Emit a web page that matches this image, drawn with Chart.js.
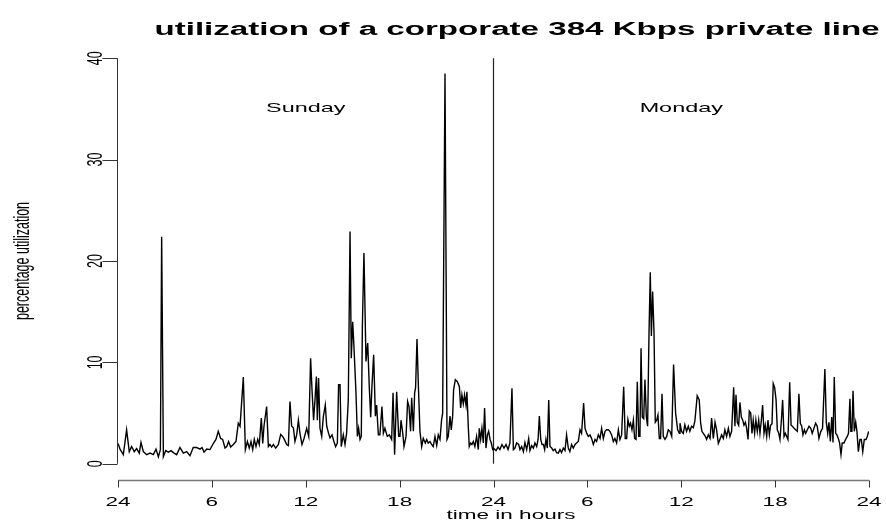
<!DOCTYPE html>
<html lang="en">
<head>
  <meta charset="UTF-8">
  <title>utilization of a corporate 384 Kbps private line</title>
  <script src="https://cdn.jsdelivr.net/npm/chart.js"></script>
  <style>
    html, body { margin: 0; padding: 0; background: #fff; }
  </style>
</head>
<body>
  <canvas id="chartCanvas" width="886" height="527"></canvas>

  <script>
    // time in hours since midnight Saturday/Sunday (0..48)
    const hours = [
      0.00, 0.13, 0.34, 0.55, 0.72, 0.87, 1.04, 1.19, 1.36, 1.47, 1.62, 1.83, 2.05, 2.26, 2.43, 2.58,
      2.71, 2.79, 2.90, 3.05, 3.22, 3.39, 3.58, 3.75, 3.96, 4.18, 4.39, 4.60, 4.81, 5.03, 5.24, 5.37,
      5.50, 5.67, 5.88, 6.09, 6.26, 6.41, 6.56, 6.69, 6.84, 6.95, 7.07, 7.20, 7.37, 7.54, 7.69, 7.80,
      8.01, 8.14, 8.27, 8.39, 8.50, 8.61, 8.71, 8.82, 8.93, 9.03, 9.16, 9.25, 9.33, 9.50, 9.61, 9.71,
      9.82, 9.93, 10.08, 10.25, 10.40, 10.52, 10.63, 10.78, 10.89, 10.99, 11.10, 11.21, 11.31, 11.42, 11.53, 11.63,
      11.76, 11.89, 12.06, 12.19, 12.31, 12.40, 12.50, 12.59, 12.68, 12.74, 12.82, 12.91, 13.02, 13.12, 13.25, 13.34,
      13.46, 13.55, 13.68, 13.80, 13.91, 14.02, 14.10, 14.19, 14.27, 14.40, 14.51, 14.61, 14.72, 14.83, 14.91, 15.00,
      15.08, 15.21, 15.30, 15.38, 15.47, 15.55, 15.62, 15.72, 15.85, 15.96, 16.06, 16.15, 16.23, 16.34, 16.45, 16.53,
      16.64, 16.74, 16.87, 16.96, 17.06, 17.21, 17.34, 17.49, 17.58, 17.68, 17.81, 17.94, 18.02, 18.09, 18.20, 18.28,
      18.41, 18.51, 18.60, 18.70, 18.77, 18.88, 18.96, 19.02, 19.11, 19.20, 19.30, 19.41, 19.51, 19.64, 19.73, 19.83,
      19.94, 20.05, 20.15, 20.26, 20.37, 20.47, 20.58, 20.68, 20.75, 20.90, 21.03, 21.11, 21.22, 21.30, 21.39, 21.45,
      21.56, 21.69, 21.82, 21.90, 21.98, 22.07, 22.15, 22.24, 22.30, 22.39, 22.45, 22.54, 22.62, 22.71, 22.81, 22.92,
      23.03, 23.09, 23.18, 23.26, 23.35, 23.43, 23.52, 23.61, 23.69, 23.78, 23.86, 23.95, 24.03, 24.16, 24.29, 24.41,
      24.54, 24.67, 24.80, 24.93, 25.05, 25.18, 25.27, 25.37, 25.48, 25.61, 25.69, 25.80, 25.91, 26.01, 26.12, 26.25,
      26.33, 26.44, 26.55, 26.65, 26.76, 26.85, 26.93, 27.02, 27.10, 27.19, 27.27, 27.35, 27.44, 27.53, 27.61, 27.72,
      27.82, 27.93, 28.03, 28.14, 28.25, 28.35, 28.46, 28.57, 28.67, 28.78, 28.88, 28.99, 29.10, 29.21, 29.31, 29.42,
      29.53, 29.63, 29.76, 29.85, 29.96, 30.06, 30.17, 30.27, 30.38, 30.49, 30.59, 30.70, 30.81, 30.91, 31.02, 31.13,
      31.23, 31.34, 31.44, 31.55, 31.66, 31.76, 31.87, 31.98, 32.08, 32.19, 32.32, 32.42, 32.51, 32.59, 32.68, 32.76,
      32.85, 32.94, 33.02, 33.11, 33.19, 33.28, 33.36, 33.43, 33.51, 33.60, 33.68, 33.77, 33.85, 33.94, 34.02, 34.09,
      34.17, 34.26, 34.34, 34.43, 34.51, 34.60, 34.68, 34.77, 34.85, 34.96, 35.07, 35.17, 35.28, 35.39, 35.51, 35.64,
      35.77, 35.88, 35.92, 36.02, 36.13, 36.23, 36.34, 36.45, 36.55, 36.66, 36.77, 36.87, 37.02, 37.15, 37.24, 37.32,
      37.41, 37.54, 37.62, 37.73, 37.84, 37.94, 38.05, 38.16, 38.26, 38.37, 38.47, 38.58, 38.69, 38.79, 38.90, 39.01,
      39.11, 39.22, 39.35, 39.43, 39.50, 39.58, 39.67, 39.75, 39.84, 39.93, 40.01, 40.10, 40.18, 40.27, 40.35, 40.44,
      40.52, 40.60, 40.69, 40.77, 40.86, 40.95, 41.03, 41.12, 41.20, 41.29, 41.37, 41.46, 41.54, 41.63, 41.71, 41.80,
      41.88, 41.97, 42.06, 42.14, 42.23, 42.31, 42.40, 42.48, 42.57, 42.65, 42.74, 42.82, 42.93, 43.02, 43.10, 43.21,
      43.31, 43.42, 43.52, 43.61, 43.70, 43.78, 43.87, 43.95, 44.06, 44.17, 44.28, 44.37, 44.48, 44.59, 44.69, 44.80,
      44.91, 45.03, 45.18, 45.27, 45.36, 45.44, 45.53, 45.62, 45.70, 45.78, 45.87, 45.95, 46.04, 46.12, 46.21, 46.29,
      46.40, 46.50, 46.61, 46.69, 46.78, 46.84, 46.91, 46.98, 47.06, 47.15, 47.23, 47.32, 47.42, 47.51, 47.60, 47.70,
      47.81, 47.89, 47.98
    ];

    // percentage utilization
    const util = [
      2.0, 1.45, 0.9, 3.35, 1.2, 1.7, 1.2, 1.5, 1.05, 2.1, 1.2, 0.9, 1.05, 0.9, 1.45, 0.7,
      1.4, 22.4, 0.7, 1.3, 1.15, 1.3, 1.05, 0.9, 1.6, 1.05, 1.2, 0.8, 1.6, 1.6, 1.45, 1.6,
      1.15, 1.45, 1.4, 2.0, 2.4, 3.2, 2.5, 2.4, 1.55, 1.7, 2.2, 1.65, 1.9, 2.2, 4.0, 3.7,
      8.55, 1.4, 2.2, 1.55, 2.2, 1.4, 2.4, 1.7, 2.4, 1.9, 4.5, 2.0, 3.7, 5.65, 1.7, 1.9,
      1.65, 1.9, 1.55, 1.9, 2.9, 2.7, 2.4, 1.9, 1.8, 6.15, 3.7, 3.55, 2.2, 2.85, 4.3, 3.0,
      1.9, 2.5, 3.5, 2.7, 10.4, 7.3, 4.3, 6.3, 8.6, 4.3, 8.45, 3.5, 2.7, 4.6, 5.8, 3.7,
      3.0, 2.55, 2.85, 2.2, 1.7, 2.05, 7.8, 7.8, 1.7, 2.85, 1.9, 3.0, 6.3, 22.9, 10.4, 14.0,
      11.6, 7.0, 2.7, 3.5, 2.4, 2.7, 13.7, 20.8, 10.1, 11.9, 7.6, 4.6, 7.6, 10.75, 4.7, 5.8,
      2.85, 2.85, 5.65, 3.0, 3.5, 2.7, 2.85, 2.4, 7.0, 0.9, 7.1, 2.7, 2.7, 4.3, 3.0, 1.7,
      2.7, 6.15, 5.65, 3.2, 6.5, 3.2, 7.0, 7.5, 12.3, 7.6, 3.2, 1.7, 2.5, 2.05, 2.4, 2.05,
      2.2, 1.9, 1.7, 2.7, 1.8, 2.85, 2.4, 4.3, 5.0, 38.5, 2.4, 2.7, 4.7, 3.35, 4.7, 7.3,
      8.3, 8.1, 7.6, 5.5, 6.8, 5.9, 6.8, 5.8, 7.1, 3.6, 1.7, 2.05, 1.9, 2.2, 1.7, 2.7,
      1.4, 3.5, 2.4, 3.5, 2.05, 5.5, 1.55, 2.85, 3.2, 2.4, 2.05, 1.4, 1.5, 1.3, 1.65, 1.4,
      1.9, 1.55, 1.9, 1.4, 2.05, 7.45, 1.4, 1.55, 2.05, 1.9, 1.4, 1.7, 1.2, 2.1, 1.4, 2.5,
      1.3, 1.8, 1.55, 2.05, 1.7, 2.4, 4.7, 2.4, 1.9, 1.9, 1.4, 2.4, 1.55, 6.3, 1.7, 1.55,
      1.3, 1.45, 1.1, 1.05, 1.4, 1.1, 1.55, 1.3, 2.85, 1.55, 1.2, 1.9, 1.55, 1.9, 2.05, 2.2,
      3.35, 3.0, 6.0, 3.5, 3.0, 2.7, 2.85, 2.5, 1.9, 2.4, 2.2, 2.85, 2.5, 3.5, 2.5, 3.2,
      3.35, 3.35, 3.2, 2.85, 2.2, 2.5, 2.05, 3.35, 2.4, 2.85, 7.6, 2.5, 2.5, 4.35, 3.7, 4.0,
      3.35, 4.3, 2.5, 2.4, 8.1, 2.7, 2.7, 11.4, 4.6, 4.45, 8.3, 4.6, 3.7, 12.9, 18.9, 12.6,
      17.0, 12.9, 4.1, 4.3, 4.8, 2.5, 2.5, 6.9, 2.7, 2.4, 2.7, 3.35, 3.2, 2.7, 9.8, 5.0,
      3.35, 3.0, 4.0, 3.2, 3.0, 3.85, 3.2, 3.7, 3.2, 3.7, 3.55, 4.2, 6.7, 6.3, 4.0, 3.2,
      3.0, 2.7, 2.4, 2.85, 2.5, 4.5, 2.5, 4.1, 3.35, 2.0, 2.4, 2.85, 2.5, 3.35, 2.7, 3.5,
      2.7, 3.2, 7.55, 3.7, 6.8, 4.1, 3.8, 6.05, 4.6, 4.3, 3.8, 4.1, 3.5, 2.4, 5.2, 5.0,
      3.0, 4.3, 3.0, 4.3, 3.2, 4.3, 3.0, 4.3, 5.8, 3.0, 3.8, 2.7, 4.3, 2.85, 3.8, 3.95,
      7.9, 7.5, 6.3, 3.35, 3.0, 2.4, 4.3, 6.3, 2.7, 3.0, 2.7, 2.4, 8.05, 3.8, 3.7, 3.5,
      3.35, 3.2, 6.9, 4.0, 3.7, 2.85, 3.35, 3.0, 3.35, 3.7, 3.5, 3.0, 3.5, 4.0, 3.7, 2.5,
      3.15, 3.5, 9.35, 4.1, 3.0, 4.1, 2.2, 4.6, 2.1, 8.55, 3.0, 2.85, 2.5, 2.05, 0.9, 2.05,
      2.05, 2.4, 2.7, 3.0, 6.4, 3.2, 3.2, 7.2, 3.2, 4.1, 3.2, 1.2, 2.4, 2.4, 1.2, 2.4,
      2.4, 2.7, 3.2
    ];

    // axes, ticks and annotations
    const xTicks = [0, 6, 12, 18, 24, 30, 36, 42, 48];
    const xTickLabels = ['24', '6', '12', '18', '24', '6', '12', '18', '24'];
    const yTicks = [0, 10, 20, 30, 40];
    const midnight = 24;
    const dayNames = ['Sunday', 'Monday'];
    const dayHours = [12, 36];
    const dayLevel = 35;

    const FONT = "'Liberation Sans', Arial, Helvetica, sans-serif";
    const STRETCH = 1.8; // the reference is drawn wide, so text is stretched horizontally

    function stretchedText(ctx, str, cx, cy, font, sx, rot) {
      ctx.save();
      ctx.translate(cx, cy);
      ctx.scale(sx, 1);
      ctx.rotate(rot || 0);
      ctx.font = font;
      ctx.fillStyle = '#000';
      ctx.textAlign = 'center';
      ctx.textBaseline = 'middle';
      ctx.fillText(str, 0, 0);
      ctx.restore();
    }

    // R-style axes drawn through the chart's own scales
    const rAxes = {
      id: 'rAxes',
      afterDraw(chart) {
        const { ctx, scales: { x, y }, chartArea } = chart;
        ctx.save();

        // y axis: line from 0 to 40, ticks to the left
        const ax = Math.round(chartArea.left) - 0.5;
        ctx.strokeStyle = '#333';
        ctx.lineWidth = 1;
        ctx.beginPath();
        ctx.moveTo(ax, y.getPixelForValue(yTicks[0]));
        ctx.lineTo(ax, y.getPixelForValue(yTicks[yTicks.length - 1]));
        yTicks.forEach(v => {
          const py = Math.round(y.getPixelForValue(v)) + 0.5;
          ctx.moveTo(ax, py);
          ctx.lineTo(ax - 15, py);
        });
        ctx.stroke();
        yTicks.forEach(v => {
          stretchedText(ctx, String(v), ax - 22, y.getPixelForValue(v), '12.5px ' + FONT, STRETCH, -Math.PI / 2);
        });

        // x axis: line along the bottom, ticks downward
        const ay = Math.round(chartArea.bottom) + 0.5;
        ctx.strokeStyle = '#777';
        ctx.lineWidth = 1.5;
        ctx.beginPath();
        ctx.moveTo(x.getPixelForValue(xTicks[0]), ay);
        ctx.lineTo(x.getPixelForValue(xTicks[xTicks.length - 1]), ay);
        ctx.stroke();
        ctx.strokeStyle = '#333';
        ctx.lineWidth = 1;
        ctx.beginPath();
        xTicks.forEach(v => {
          const px = Math.round(x.getPixelForValue(v)) + 0.5;
          ctx.moveTo(px, ay);
          ctx.lineTo(px, ay + 7);
        });
        ctx.stroke();
        xTicks.forEach((v, i) => {
          stretchedText(ctx, xTickLabels[i], x.getPixelForValue(v), ay + 22, '12.5px ' + FONT, STRETCH);
        });

        // axis titles and main title
        stretchedText(ctx, 'time in hours', 511, 516, '12.5px ' + FONT, STRETCH);
        stretchedText(ctx, 'percentage utilization', 23, (chartArea.top + chartArea.bottom) / 2, '12.5px ' + FONT, STRETCH, -Math.PI / 2);
        stretchedText(ctx, 'utilization of a corporate 384 Kbps private line', 517, 30, 'bold 18px ' + FONT, 1.84);

        // day annotations
        dayNames.forEach((name, i) => {
          stretchedText(ctx, name, x.getPixelForValue(dayHours[i]), y.getPixelForValue(dayLevel), '13px ' + FONT, STRETCH);
        });
        ctx.restore();
      }
    };

    const ctx = document.getElementById('chartCanvas');
    new Chart(ctx, {
      type: 'scatter',
      data: {
        datasets: [
          {
            data: hours.map((h, i) => ({ x: h, y: util[i] })),
            showLine: true,
            borderColor: '#000',
            borderWidth: 1.4,
            pointRadius: 0,
            tension: 0
          },
          {
            data: [{ x: midnight, y: yTicks[0] }, { x: midnight, y: yTicks[yTicks.length - 1] }],
            showLine: true,
            borderColor: '#222',
            borderWidth: 1.2,
            pointRadius: 0
          }
        ]
      },
      options: {
        responsive: false,
        animation: false,
        layout: { padding: { left: 118, right: 17, top: 42, bottom: 47 } },
        plugins: { legend: { display: false }, tooltip: { enabled: false } },
        scales: {
          x: { type: 'linear', min: 0, max: 48, display: false },
          y: { type: 'linear', min: -1.6, max: 41.6, display: false }
        }
      },
      plugins: [rAxes]
    });
  </script>
</body>
</html>
